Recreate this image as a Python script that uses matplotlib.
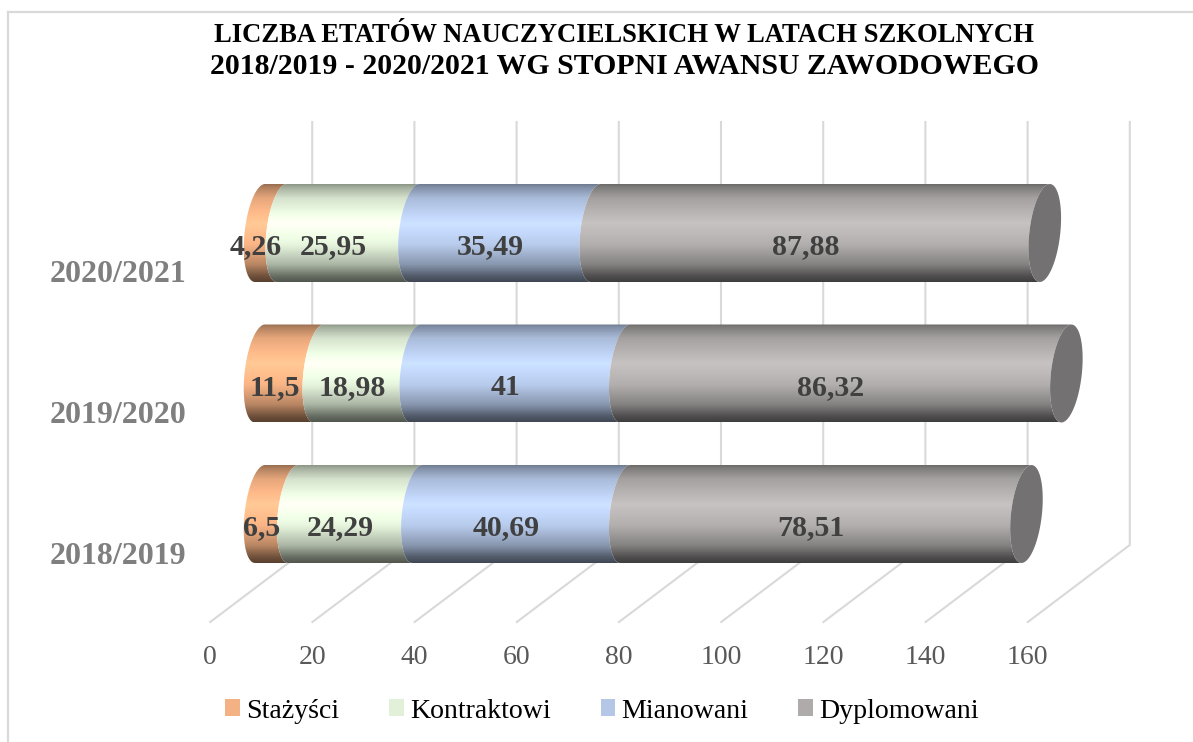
import numpy as np
import matplotlib
matplotlib.use("Agg")
import matplotlib.pyplot as plt
from matplotlib.colors import to_rgb
from matplotlib.patches import Patch, PathPatch
from matplotlib.path import Path
from matplotlib.lines import Line2D

years = ["2018/2019", "2019/2020", "2020/2021"]
series_names = ["Stażyści", "Kontraktowi", "Mianowani", "Dyplomowani"]
stazysci = [6.5, 11.5, 4.26]
kontraktowi = [24.29, 18.98, 25.95]
mianowani = [40.69, 41, 35.49]
dyplomowani = [78.51, 86.32, 87.88]
value_labels = [
    ["6,5", "11,5", "4,26"],
    ["24,29", "18,98", "25,95"],
    ["40,69", "41", "35,49"],
    ["78,51", "86,32", "87,88"],
]
x_ticks = [0, 20, 40, 60, 80, 100, 120, 140, 160]
colors = ["#F4B183", "#E2F0D9", "#B4C7E7", "#AFABAB"]
cap_color = "#737171"
grid_color = "#D9D9D9"

W, H = 1193, 742
PX_X = 5.11     # pixels per value unit
PX_Y = 140.5    # pixels between bars
X0 = 260        # pixel of value 0 on the bars
Y0 = 514        # pixel of the first bar centre

HALF_H = 49 / PX_Y
ELL_W = 15.5 / PX_X
ELL_S = 5 / PX_X
DEPTH = 51 / PX_X
GRID_SHIFT = 1.2 / PX_X

# vertical shading of the cylinders, from top to bottom
shade_pos = [0.0, 0.03, 0.14, 0.40, 0.62, 0.82, 0.94, 1.0]
shade_mul = [0.62, 0.72, 0.94, 1.14, 1.02, 0.76, 0.46, 0.36]

plt.rcParams["font.family"] = ["Liberation Serif", "DejaVu Serif"]

fig = plt.figure(figsize=(W / 100, H / 100), dpi=100)
ax = fig.add_axes([0, 0, 1, 1])
ax.set_xlim(-X0 / PX_X, (W - X0) / PX_X)
ax.set_ylim((Y0 - H) / PX_Y, Y0 / PX_Y)
ax.axis("off")


def py(p):
    return (Y0 - p) / PX_Y


def px(p):
    return (p - X0) / PX_X


def left_edge(v, c, reverse=False):
    t = np.linspace(np.pi / 2, 3 * np.pi / 2, 40)
    if reverse:
        t = t[::-1]
    return v + ELL_W * np.cos(t) + ELL_S * np.sin(t), c + HALF_H * np.sin(t)


def shaded(color):
    rgb = np.array(to_rgb(color))
    yy = np.linspace(0, 1, 200)
    mul = np.interp(yy, shade_pos, shade_mul)
    return np.clip(mul[:, None, None] * rgb[None, None, :], 0, 1)


# outer frame of the picture
fig.add_artist(Line2D([8 / W, 8 / W], [0, 1 - 12 / H], color=grid_color, lw=1.6))
fig.add_artist(Line2D([8 / W, 1], [1 - 12 / H, 1 - 12 / H], color=grid_color, lw=1.6))

# back wall and floor lines
for v in x_ticks:
    g = v + GRID_SHIFT
    ax.plot([g + DEPTH, g + DEPTH, g - DEPTH], [py(122), py(545), py(622)],
            color=grid_color, lw=1.5, zorder=1, solid_joinstyle="miter")
    ax.text(g - DEPTH, py(657), str(v), ha="center", va="center", fontsize=20, color="#595959")

# cylinders
table = [stazysci, kontraktowi, mianowani, dyplomowani]
for c in range(len(years)):
    start = 0
    for s, vals in enumerate(table):
        stop = start + vals[c]
        xa, ya = left_edge(start, c)
        xb, yb = left_edge(stop, c, reverse=True)
        verts = np.vstack([np.column_stack([xa, ya]), np.column_stack([xb, yb]), [[xa[0], ya[0]]]])
        codes = [Path.MOVETO] + [Path.LINETO] * (len(verts) - 2) + [Path.CLOSEPOLY]
        clip = PathPatch(Path(verts, codes), transform=ax.transData, fc="none", ec="none")
        ax.add_patch(clip)
        im = ax.imshow(shaded(colors[s]), extent=[start - 5, stop + 5, c - HALF_H, c + HALF_H],
                       aspect="auto", origin="upper", zorder=2 + s * 0.1, interpolation="bilinear")
        im.set_clip_path(clip)
        ax.text((start + stop) / 2 - 15 / PX_X, c - 14 / PX_Y, value_labels[s][c], ha="center", va="center",
                fontsize=21.5, fontweight="bold", color="#404040", zorder=5)
        start = stop
    t = np.linspace(0, 2 * np.pi, 90)
    ax.fill(start + ELL_W * np.cos(t) + ELL_S * np.sin(t), c + HALF_H * np.sin(t),
            color=cap_color, lw=0, zorder=3)
    ax.text(px(186), c - 42 / PX_Y, years[c], ha="right", va="center", fontsize=23,
            fontweight="bold", color="#7F7F7F")

ax.set_xlim(-X0 / PX_X, (W - X0) / PX_X)
ax.set_ylim((Y0 - H) / PX_Y, Y0 / PX_Y)

ax.text(px(624), py(35), "LICZBA ETATÓW NAUCZYCIELSKICH W LATACH SZKOLNYCH", ha="center", va="center",
        fontsize=19.2, fontweight="bold", color="black")
ax.text(px(624), py(67), "2018/2019 - 2020/2021 WG STOPNI AWANSU ZAWODOWEGO", ha="center", va="center",
        fontsize=21.4, fontweight="bold", color="black")

handles = [Patch(facecolor=col, edgecolor="none") for col in colors]
fig.legend(handles, series_names, ncols=4, loc="center", bbox_to_anchor=(602 / W, 1 - 711 / H),
           frameon=False, fontsize=20.1, handlelength=0.53, handleheight=0.53, handletextpad=0.21,
           columnspacing=1.79, labelcolor="black", borderpad=0, borderaxespad=0)

fig.savefig("out.png", dpi=100)
